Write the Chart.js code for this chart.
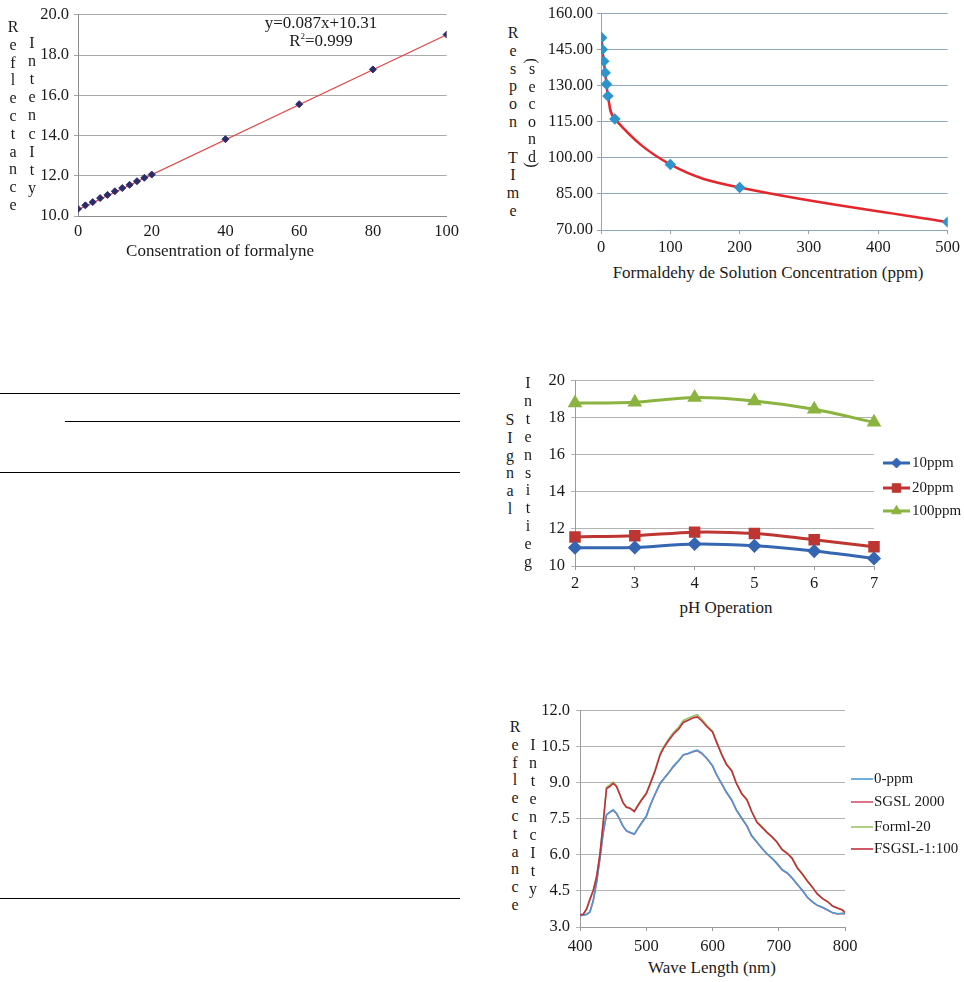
<!DOCTYPE html>
<html>
<head>
<meta charset="utf-8">
<script src="https://cdn.jsdelivr.net/npm/chart.js@4.4.0/dist/chart.umd.min.js"></script>
<style>
  html, body { margin: 0; padding: 0; background: #fff; }
  #page { position: relative; width: 964px; height: 982px; overflow: hidden;
          font-family: "Liberation Serif", "Times New Roman", serif; color: #1a1a1a; }
  canvas { position: absolute; }
  .rule { position: absolute; height: 1px; background: #000; }
  .xtitle { position: absolute; font-size: 17px; white-space: nowrap; transform: translate(-50%, -50%); }
  .vchar { position: absolute; font-size: 16px; line-height: 1; transform: translate(-50%, -50%); }
  .vchar.rot { transform: translate(-50%, -50%) rotate(90deg); }
  .eq { position: absolute; font-size: 17px; white-space: nowrap; transform: translate(-50%, -50%); }
  .eq sup { font-size: 9px; vertical-align: 7px; }
</style>
</head>
<body>
<div id="page">
  <!-- table rules on the left -->
  <div class="rule" style="left:0;top:393px;width:460px"></div>
  <div class="rule" style="left:65px;top:421px;width:395px"></div>
  <div class="rule" style="left:0;top:472px;width:460px"></div>
  <div class="rule" style="left:0;top:898px;width:460px"></div>

  <canvas id="c1" width="435" height="246" style="left:30px;top:0"></canvas>
  <canvas id="c2" width="424" height="260" style="left:540px;top:0"></canvas>
  <canvas id="c3" width="434" height="231" style="left:530px;top:365px"></canvas>
  <canvas id="c4" width="434" height="262" style="left:530px;top:695px"></canvas>

  <div class="eq" style="left:321px;top:23px">y=0.087x+10.31</div>
  <div class="eq" style="left:321px;top:41px">R<sup>2</sup>=0.999</div>

  <div class="xtitle" style="left:220px;top:251px">Consentration of formalyne</div>
  <div class="xtitle" style="left:768px;top:273px">Formaldehy de Solution Concentration (ppm)</div>
  <div class="xtitle" style="left:726px;top:608px">pH Operation</div>
  <div class="xtitle" style="left:712px;top:968px">Wave Length (nm)</div>
</div>

<script>
// Chart 1: reflectance vs formaldehyde concentration
const concentration = [0, 2, 4, 6, 8, 10, 12, 14, 16, 18, 20, 40, 60, 80, 100];
const reflectance = [10.35, 10.53, 10.69, 10.89, 11.05, 11.23, 11.39, 11.55, 11.73, 11.90, 12.06, 13.82, 15.56, 17.29, 19.02];
const trendX = [0, 100];
const trendY = [10.31, 19.01];

// Chart 2: response time vs concentration
const respConc = [1, 2, 4, 6, 8, 10, 20, 100, 200, 500];
const respTime = [150.1, 145.2, 140.3, 135.5, 130.7, 125.8, 116.2, 97.3, 87.7, 73.3];

// Chart 3: signal intensity vs pH
const phValues = ['2', '3', '4', '5', '6', '7'];
const ppm10 = [10.99, 11.00, 11.19, 11.09, 10.81, 10.41];
const ppm20 = [11.57, 11.64, 11.83, 11.75, 11.42, 11.04];
const ppm100 = [18.80, 18.85, 19.10, 18.92, 18.47, 17.76];

// Chart 4: reflectance spectra
const wavelengths = [400, 405, 410, 415, 420, 425, 430, 435, 440, 445, 450, 455, 460, 465, 470, 475,
  482, 488, 493, 500, 506, 513, 521, 526, 534, 541, 549, 556, 564, 572, 577, 584, 592, 600, 606, 614,
  621, 629, 636, 644, 652, 659, 667, 675, 682, 690, 697, 705, 713, 720, 728, 736, 743, 751, 758, 766,
  774, 781, 789, 796, 800];
const ppm0 = [3.47, 3.50, 3.52, 3.62, 4.11, 4.87, 5.86, 6.94, 7.68, 7.77, 7.88, 7.74, 7.48, 7.20, 7.01, 6.95,
  6.87, 7.14, 7.34, 7.61, 8.08, 8.52, 8.99, 9.16, 9.43, 9.70, 9.93, 10.18, 10.24, 10.33, 10.37, 10.24, 10.01, 9.72, 9.36, 8.96,
  8.62, 8.29, 7.88, 7.54, 7.21, 6.81, 6.54, 6.27, 6.06, 5.86, 5.66, 5.39, 5.25, 5.05, 4.78, 4.52, 4.25, 4.05, 3.91, 3.82,
  3.71, 3.60, 3.55, 3.57, 3.55];
const sgsl2000 = [3.48, 3.49, 3.53, 3.63, 4.09, 4.86, 5.85, 6.92, 7.67, 7.78, 7.86, 7.73, 7.47, 7.19, 7.00, 6.94,
  6.86, 7.12, 7.33, 7.60, 8.06, 8.51, 8.97, 9.15, 9.42, 9.68, 9.92, 10.16, 10.23, 10.31, 10.34, 10.22, 10.00, 9.71, 9.35, 8.95,
  8.61, 8.28, 7.87, 7.53, 7.20, 6.80, 6.53, 6.26, 6.05, 5.85, 5.65, 5.38, 5.24, 5.04, 4.77, 4.51, 4.24, 4.04, 3.90, 3.81,
  3.70, 3.59, 3.54, 3.56, 3.54];
const forml20 = [3.51, 3.53, 3.76, 4.16, 4.53, 5.10, 6.02, 7.37, 8.82, 8.92, 9.04, 8.90, 8.55, 8.19, 8.01, 7.97,
  7.83, 8.10, 8.32, 8.58, 9.00, 9.52, 10.22, 10.50, 10.84, 11.10, 11.33, 11.60, 11.70, 11.80, 11.84, 11.65, 11.38, 11.16, 10.74, 10.21,
  9.80, 9.53, 9.01, 8.58, 8.31, 7.84, 7.39, 7.17, 6.96, 6.76, 6.56, 6.24, 6.08, 5.88, 5.48, 5.21, 4.94, 4.66, 4.39, 4.19,
  4.06, 3.88, 3.79, 3.72, 3.61];
const fsgsl100 = [3.51, 3.53, 3.75, 4.15, 4.52, 5.08, 6.00, 7.34, 8.76, 8.85, 8.98, 8.85, 8.52, 8.17, 7.99, 7.95,
  7.81, 8.08, 8.29, 8.55, 8.96, 9.47, 10.17, 10.44, 10.78, 11.03, 11.25, 11.52, 11.62, 11.72, 11.75, 11.58, 11.33, 11.12, 10.70, 10.17,
  9.77, 9.50, 8.98, 8.55, 8.29, 7.81, 7.36, 7.14, 6.94, 6.74, 6.54, 6.22, 6.06, 5.86, 5.46, 5.19, 4.92, 4.65, 4.38, 4.18,
  4.05, 3.87, 3.78, 3.71, 3.60];

Chart.defaults.font.family = '"Liberation Serif", "Times New Roman", serif';
Chart.defaults.color = '#1a1a1a';

// stacked letters for the vertical axis titles
function vtext(str, x, y, step) {
  const page = document.getElementById('page');
  let cy = y;
  let prev = null;
  for (const ch of str) {
    const paren = ch === '(' || ch === ')';
    if (prev !== null) cy += (paren || prev === '(' || prev === ')') ? 8 : step;
    prev = ch;
    if (ch === ' ') continue;
    const s = document.createElement('span');
    s.className = paren ? 'vchar rot' : 'vchar';
    s.textContent = ch;
    s.style.left = x + 'px';
    s.style.top = cy + 'px';
    page.appendChild(s);
  }
}
vtext('Reflectance', 13, 27, 17.8);
vtext('IntencIty', 32, 43, 18.1);
vtext('Respon TIme', 513, 33, 17.8);
vtext('(second)', 532, 61, 17.6);
vtext('SIgnal', 510, 420, 17.8);
vtext('Intensitieg', 528, 383, 17.9);
vtext('Reflectance', 515, 727, 17.8);
vtext('IntencIty', 533, 745, 18);

// legend with a line and marker, like the spreadsheet one
const lineLegend = {
  id: 'lineLegend',
  afterDraw(chart, args, opts) {
    if (!opts.ys) return;
    const ctx = chart.ctx;
    chart.data.datasets.forEach((ds, i) => {
      const y = opts.ys[i];
      ctx.save();
      ctx.strokeStyle = ds.borderColor;
      ctx.lineWidth = ds.borderWidth;
      ctx.beginPath();
      ctx.moveTo(opts.x0, y);
      ctx.lineTo(opts.x1, y);
      ctx.stroke();
      if (ds.pointRadius && Chart.helpers && Chart.helpers.drawPoint) {
        ctx.fillStyle = ds.pointBackgroundColor;
        ctx.strokeStyle = ds.pointBackgroundColor;
        ctx.lineWidth = 1;
        Chart.helpers.drawPoint(ctx, { pointStyle: ds.pointStyle, radius: ds.pointRadius, borderWidth: 1, rotation: 0 },
          (opts.x0 + opts.x1) / 2, y);
      }
      ctx.fillStyle = '#1a1a1a';
      ctx.font = '15px "Liberation Serif", serif';
      ctx.textBaseline = 'middle';
      ctx.fillText(ds.label, opts.tx, y);
      ctx.restore();
    });
  }
};

function makeOptions(o) {
  return {
    responsive: false,
    animation: false,
    layout: { padding: o.padding },
    plugins: { legend: { display: false }, tooltip: { enabled: false }, lineLegend: o.legend || {} },
    scales: {
      x: {
        type: o.xType || 'linear',
        min: o.xMin, max: o.xMax, offset: false,
        ticks: { stepSize: o.xStep, padding: o.xPad, maxRotation: 0, autoSkip: false, font: { size: 16.5 } },
        grid: { drawOnChartArea: false, drawTicks: o.xTicks, tickLength: 4, color: o.axisColor },
        border: { color: o.axisColor, width: 1 },
        afterFit: s => { s.height = 30; }
      },
      y: {
        min: o.yMin, max: o.yMax,
        ticks: { stepSize: o.yStep, padding: o.yPad, font: { size: 16.5 }, callback: v => Number(v).toFixed(o.dec) },
        grid: { color: o.gridColor, tickLength: 4 },
        border: { color: o.axisColor, width: 1 },
        afterFit: s => { s.width = o.yWidth; }
      }
    }
  };
}

// Chart 1
new Chart(document.getElementById('c1'), {
  type: 'scatter',
  data: {
    datasets: [
      { label: 'data', data: concentration.map((x, i) => ({ x, y: reflectance[i] })),
        pointStyle: 'rectRot', pointRadius: 3.5, backgroundColor: '#2c2c6a', borderColor: '#2c2c6a', showLine: false },
      { label: 'trend', data: trendX.map((x, i) => ({ x, y: trendY[i] })),
        showLine: true, borderColor: '#e04545', borderWidth: 1.2, pointRadius: 0 }
    ]
  },
  options: makeOptions({
    padding: { top: 9, right: 16 },
    xMin: 0, xMax: 100, xStep: 20, xPad: 6, xTicks: false,
    yMin: 10, yMax: 20, yStep: 2, yPad: 5, dec: 1, yWidth: 48,
    gridColor: '#a9a9a9', axisColor: '#8c8c8c'
  })
});

// Chart 2
new Chart(document.getElementById('c2'), {
  type: 'scatter',
  data: {
    datasets: [
      { label: 'response', data: respConc.map((x, i) => ({ x, y: respTime[i] })),
        showLine: true, tension: 0.4, borderColor: '#e3272d', borderWidth: 2.5,
        pointStyle: 'rectRot', pointRadius: 4, pointBackgroundColor: '#2e94cc', pointBorderColor: '#2e94cc' }
    ]
  },
  options: makeOptions({
    padding: { top: 11, right: 16 },
    xMin: 0, xMax: 500, xStep: 100, xPad: 4, xTicks: true,
    yMin: 70, yMax: 160, yStep: 15, yPad: 4, dec: 2, yWidth: 61,
    gridColor: '#8fa4b7', axisColor: '#8fa4b7'
  })
});

// Chart 3
new Chart(document.getElementById('c3'), {
  type: 'line',
  data: {
    labels: phValues,
    datasets: [
      { label: '10ppm', data: ppm10, borderColor: '#3566b2', borderWidth: 3, tension: 0.3,
        pointStyle: 'rectRot', pointRadius: 5, pointBackgroundColor: '#3566b2', pointBorderColor: '#3566b2' },
      { label: '20ppm', data: ppm20, borderColor: '#bd3632', borderWidth: 3, tension: 0.3,
        pointStyle: 'rect', pointRadius: 6, pointBackgroundColor: '#bd3632', pointBorderColor: '#bd3632' },
      { label: '100ppm', data: ppm100, borderColor: '#8ab43f', borderWidth: 3, tension: 0.3,
        pointStyle: 'triangle', pointRadius: 5.5, pointBackgroundColor: '#8ab43f', pointBorderColor: '#8ab43f' }
    ]
  },
  options: makeOptions({
    padding: { top: 12, right: 90 },
    xType: 'category', xPad: 4, xTicks: true,
    yMin: 10, yMax: 20, yStep: 2, yPad: 6, dec: 0, yWidth: 45,
    gridColor: '#b3b3b3', axisColor: '#9a9a9a',
    legend: { x0: 353, x1: 380, tx: 382, ys: [98, 123, 146] }
  }),
  plugins: [lineLegend]
});

// Chart 4
const spectrum = arr => wavelengths.map((x, i) => ({ x, y: arr[i] }));
new Chart(document.getElementById('c4'), {
  type: 'scatter',
  data: {
    datasets: [
      { label: '0-ppm', data: spectrum(ppm0), showLine: true, borderColor: '#4a9ad6', borderWidth: 1.6, pointRadius: 0, order: 1 },
      { label: 'SGSL 2000', data: spectrum(sgsl2000), showLine: true, borderColor: '#d65068', borderWidth: 1.6, pointRadius: 0, order: 1 },
      { label: 'Forml-20', data: spectrum(forml20), showLine: true, borderColor: '#9cc36a', borderWidth: 1.6, pointRadius: 0, order: 1 },
      { label: 'FSGSL-1:100', data: spectrum(fsgsl100), showLine: true, borderColor: '#c22f3c', borderWidth: 1.6, pointRadius: 0, order: 0 }
    ]
  },
  options: makeOptions({
    padding: { top: 10, right: 119 },
    xMin: 400, xMax: 800, xStep: 100, xPad: 6, xTicks: true,
    yMin: 3, yMax: 12, yStep: 1.5, yPad: 6, dec: 1, yWidth: 50,
    gridColor: '#b3b3b3', axisColor: '#9a9a9a',
    legend: { x0: 321, x1: 343, tx: 344, ys: [84, 107, 132, 154] }
  }),
  plugins: [lineLegend]
});
</script>
</body>
</html>
